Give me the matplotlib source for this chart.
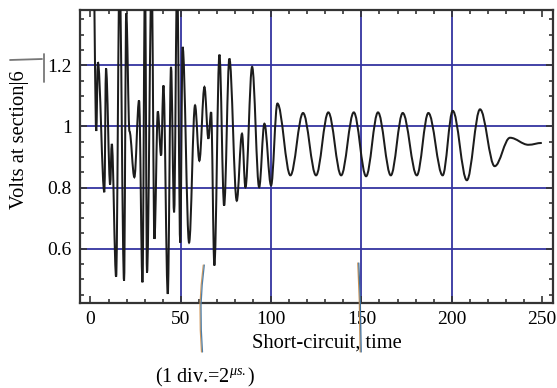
import matplotlib
matplotlib.use("Agg")
import matplotlib.pyplot as plt
from matplotlib.path import Path
from matplotlib.patches import PathPatch
from matplotlib.lines import Line2D
from matplotlib.ticker import MultipleLocator, FixedLocator

plt.rcParams['font.family'] = ['Liberation Serif', 'DejaVu Serif']
plt.rcParams['mathtext.fontset'] = 'custom'
plt.rcParams['mathtext.rm'] = 'Liberation Serif'
plt.rcParams['mathtext.it'] = 'Liberation Serif:italic'

time_us = [1.5, 3.2, 4.1, 7.7, 8.6, 10.9, 11.8, 14.2, 16.1, 18.6, 19.8, 21.6,
           24.3, 26.9, 28.8, 30.2, 31.3, 33.9, 35.4, 37.3, 39.1, 40.4, 42.8,
           44.6, 46.3, 48.0, 49.7, 51.0, 54.6, 57.9, 60.3, 63.1, 65.3, 66.8,
           68.6, 71.4, 74.0, 76.9, 81.0, 83.9, 85.8, 89.5, 93.4, 96.3, 100.0,
           103.5, 110.7, 117.7, 124.9, 131.7, 138.8, 145.8, 152.6, 159.2,
           166.3, 172.9, 180.7, 187.1, 195.0, 200.6, 208.4, 215.7, 223.8,
           232.3, 242.5, 249.9]
volts = [1.60, 0.985, 1.21, 0.785, 1.19, 0.81, 0.943, 0.508, 1.50, 0.495, 1.37, 0.984,
         0.834, 1.085, 0.49, 1.50, 0.522, 1.50, 0.632, 1.049, 0.905, 1.134, 0.452,
         1.195, 0.719, 1.50, 0.62, 1.26, 0.62, 1.069, 0.888, 1.129, 0.96, 1.047,
         0.545, 1.235, 0.741, 1.222, 0.757, 0.976, 0.801, 1.195, 0.801, 1.009, 0.807,
         1.075, 0.840, 1.044, 0.840, 1.046, 0.840, 1.046, 0.837, 1.046,
         0.840, 1.044, 0.840, 1.044, 0.840, 1.051, 0.824, 1.056, 0.870,
         0.963, 0.940, 0.946]

x_ticks = [0, 50, 100, 150, 200, 250]
y_ticks = [0.6, 0.8, 1.0, 1.2]
y_ticklabels = ["0.6", "0.8", "1", "1.2"]
x_grid = [50, 100, 150, 200]

W, H = 557, 388
fig = plt.figure(figsize=(W / 100, H / 100), dpi=100)
ax = fig.add_axes([80 / W, 1 - 302.7 / H, (553 - 80) / W, (302.7 - 10) / H])
ax.set_xlim(-5.8, 256.1)
ax.set_ylim(0.4233, 1.381)

# grid
for gx in x_grid:
    ax.axvline(gx, color='#3434a0', lw=1.3, zorder=1)
for gy in y_ticks:
    ax.axhline(gy, color='#3434a0', lw=1.3, zorder=1)

# smooth curve through extrema (cubic Bezier, horizontal tangent at each extremum)
verts = [(time_us[0], volts[0])]
codes = [Path.MOVETO]
k = 0.36
for i in range(1, len(time_us)):
    x0, y0 = time_us[i - 1], volts[i - 1]
    x1, y1 = time_us[i], volts[i]
    d = (x1 - x0) * k
    verts += [(x0 + d, y0), (x1 - d, y1), (x1, y1)]
    codes += [Path.CURVE4] * 3
patch = PathPatch(Path(verts, codes), facecolor='none', edgecolor='#1c1c1c',
                  lw=1.45, zorder=3, transform=ax.transData)
ax.add_patch(patch)

# ticks & spines
ax.xaxis.set_major_locator(FixedLocator(x_ticks))
ax.xaxis.set_minor_locator(MultipleLocator(10))
ax.yaxis.set_major_locator(FixedLocator(y_ticks))
ax.set_yticklabels(y_ticklabels)
ax.yaxis.set_minor_locator(MultipleLocator(0.05))
ax.tick_params(which='both', direction='in', top=True, right=True,
               labeltop=False, labelright=False, color='#333333', width=1.2)
ax.tick_params(which='major', length=5, labelsize=14, pad=6)
ax.tick_params(which='minor', length=3)
for s in ax.spines.values():
    s.set_color('#333333')
    s.set_linewidth(1.6)

# labels
fig.text(252 / W, 1 - 348 / H, "Short-circuit, time", fontsize=14.8,
         ha='left', va='baseline')
fig.text(20 / W, 1 - 140 / H, "Volts at section|6", fontsize=14.8, rotation=90,
         ha='center', va='center')
fig.text(155 / W, 1 - 382 / H, r"(1 div.=2$^{\mathit{μs.}}$)", fontsize=14.5,
         ha='left', va='baseline')

# hand-drawn marks
def fig_line(xs, ys, color, lw):
    fig.add_artist(Line2D([x / W for x in xs], [1 - y / H for y in ys],
                          color=color, lw=lw, transform=fig.transFigure,
                          solid_capstyle='round'))

fig_line([203.3, 201.2, 200.0, 200.3, 201.5], [265, 285, 305, 330, 352], '#d49a5c', 0.9)
fig_line([204.3, 202.2, 201.0, 201.3, 202.5], [265, 285, 305, 330, 352], '#4f7fa8', 0.9)
fig_line([357.8, 359.3, 360.2], [263, 300, 352], '#c99050', 0.9)
fig_line([358.8, 360.3, 361.2], [263, 300, 352], '#3d6f9f', 0.9)
fig_line([10, 42], [60, 59], '#777777', 1.3)
fig_line([43.5, 43.5], [54, 82], '#777777', 1.3)

fig.savefig("out.png", dpi=100)
